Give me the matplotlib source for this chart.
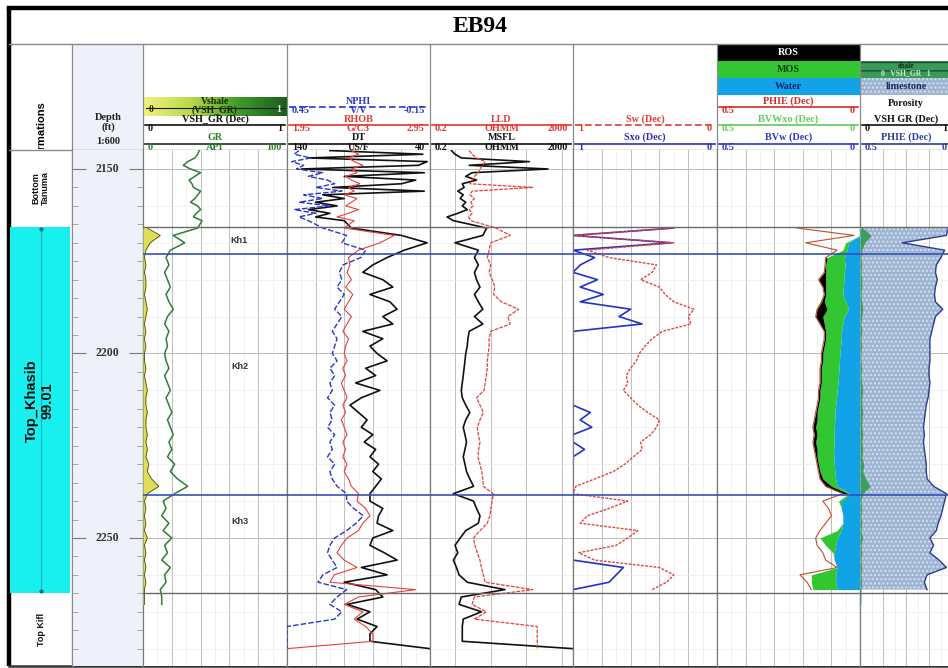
import numpy as np
import matplotlib
matplotlib.use("Agg")
import matplotlib.pyplot as plt
from matplotlib.colors import LinearSegmentedColormap
from matplotlib.patches import Rectangle
from matplotlib.ticker import LogLocator

NA = np.nan

WELL_NAME = "EB94"

# depth sampling (ft): 1 ft above Top Khasib, 2 ft below
DEPTH_TOP = list(range(2145, 2165))
DEPTH_MAIN = list(range(2166, 2282, 2))

# ---- track 1 ----
GR_TOP = [39, 38, 36, 31, 28, 33, 40, 36, 32, 34, 35, 40, 38, 36, 33, 38, 40, 37, 35, 41]
GR_MAIN = [38, 21, 29, 19, 16, 18, 15, 17, 19, 16,
           18, 21, 17, 15, 18, 16, 17, 15, 16, 18,
           15, 17, 19, 16, 18, 20, 17, 19, 21, 18,
           20, 17, 22, 19, 24, 31, 22, 14, 16, 13,
           18, 14, 20, 15, 17, 13, 19, 15, 16, 12,
           13, 13, NA, NA, NA, NA, NA, NA]
VSH_MAIN = [0.03, 0.12, 0.05, 0.02, 0.01, 0.02, 0.01, 0.02, 0.02, 0.01,
            0.02, 0.03, 0.02, 0.01, 0.02, 0.01, 0.02, 0.01, 0.01, 0.02,
            0.01, 0.02, 0.03, 0.02, 0.02, 0.03, 0.02, 0.02, 0.03, 0.02,
            0.03, 0.02, 0.04, 0.03, 0.06, 0.11, 0.03, 0.01, 0.02, 0.01,
            0.02, 0.01, 0.03, 0.01, 0.02, 0.01, 0.02, 0.01, 0.02, 0.01,
            0.01, 0.01, NA, NA, NA, NA, NA, NA]

# ---- track 2 ----
NPHI_TOP = [0.40, 0.42, 0.35, 0.43, 0.38, 0.41, 0.30, 0.36, 0.28, 0.25,
            0.33, 0.22, 0.38, 0.30, 0.40, 0.27, 0.42, 0.33, 0.40, 0.36]
NPHI_MAIN = [0.30, 0.20, 0.22, 0.12, 0.14, 0.215, 0.23, 0.22, 0.24, 0.21,
             0.23, 0.25, 0.22, 0.24, 0.26, 0.24, 0.25, 0.26, 0.24, 0.27,
             0.25, 0.27, 0.26, 0.28, 0.25, 0.27, 0.26, 0.28, 0.25, 0.27,
             0.26, 0.28, 0.25, 0.27, 0.26, 0.24, 0.20, 0.20, 0.17, 0.13,
             0.16, 0.20, 0.25, 0.27, 0.28, 0.26, 0.24, 0.30, 0.32, 0.20,
             0.24, 0.27, 0.22, 0.25, 0.45, 0.45, 0.45, 0.45]
RHOB_TOP = [2.40, 2.45, 2.38, 2.42, 2.48, 2.40, 2.44, 2.36, 2.40, 2.46,
            2.38, 2.42, 2.35, 2.44, 2.40, 2.36, 2.45, 2.38, 2.30, 2.42]
RHOB_MAIN = [2.35, 2.70, 2.60, 2.45, 2.38, 2.39, 2.37, 2.40, 2.36, 2.41,
             2.38, 2.35, 2.40, 2.37, 2.34, 2.38, 2.36, 2.35, 2.37, 2.34,
             2.36, 2.33, 2.35, 2.37, 2.34, 2.36, 2.33, 2.35, 2.37, 2.34,
             2.36, 2.34, 2.37, 2.35, 2.38, 2.40, 2.45, 2.44, 2.50, 2.53,
             2.48, 2.45, 2.37, 2.33, 2.30, 2.35, 2.44, 2.28, 2.25, 2.85,
             2.45, 2.35, 2.48, 2.42, 2.50, 2.55, 2.55, 1.95]
DT_TOP = [110, 45, 125, 42, 48, 130, 44, 100, 50, 60,
          108, 44, 115, 100, 120, 105, 125, 110, 120, 100]
DT_MAIN = [95, 60, 42, 58, 70, 80, 87, 73, 66, 82,
           68, 63, 73, 66, 87, 73, 82, 77, 70, 85,
           78, 92, 75, 88, 96, 90, 84, 88, 80, 86,
           78, 82, 76, 80, 74, 78, 82, 82, 73, 76,
           77, 66, 80, 82, 72, 63, 88, 70, 100, 78,
           73, 98, 82, 91, 77, 82, 82, 40]

# ---- track 3 ----
LLD_TOP = [2.5, 3.0, 4.0, 7.0, 6.0, 5.0, 4.5, 3.5, 3.0, 2.6,
           150, 3.0, 2.6, 3.5, 2.8, 3.2, 2.5, 3.0, 2.4, 2.8]
LLD_MAIN = [14, 35, 10, 9, 8, 10, 9, 11, 13, 12,
            20, 60, 30, 35, 10, 9, 9, 8.5, 8, 8,
            7.5, 7, 6.5, 4.0, 5.0, 6.2, 5.0, 4.2, 4.5, 5.0,
            4.6, 4.4, 5.0, 5.6, 6.0, 6.2, 11.8, 11, 10, 9.5,
            8, 5, 3.3, 3.6, 4.2, 5.0, 5.5, 6.2, 7, 150,
            3.5, 3.0, 7.5, 3.5, 200, 200, 200, 200]
MSFL_TOP = [0.8, 1.0, 1.5, 120, 2.5, 400, 3.0, 2.0, 4.0, 1.6,
            1.8, 1.2, 1.7, 1.4, 2.0, 1.6, 2.2, 1.2, 0.6, 0.9]
MSFL_MAIN = [7.7, 6.0, 1.0, 4.5, 3.5, 4.5, 3.5, 4.0, 5.0, 3.5,
             4.5, 6.0, 3.5, 6.0, 2.5, 2.3, 2.2, 2.0, 1.9, 1.8,
             1.7, 1.6, 1.5, 1.6, 2.0, 2.6, 2.0, 1.7, 1.9, 2.1,
             1.9, 1.7, 1.9, 2.1, 2.6, 3.3, 0.9, 3.3, 4.0, 5.0,
             4.5, 2.0, 1.4, 1.0, 1.2, 0.9, 1.1, 1.3, 2.2, 25,
             1.5, 1.3, 5.5, 1.7, 1.6, 1.6, 1.6, 2000]

# ---- track 4 ----
SW_MAIN = [0.30, 1.0, 0.30, 0.90, 0.75, 0.42, 0.45, 0.53, 0.40, 0.36,
           0.30, 0.16, 0.20, 0.18, 0.38, 0.45, 0.50, 0.54, 0.56, 0.60,
           0.63, 0.62, 0.65, 0.60, 0.55, 0.48, 0.40, 0.42, 0.46, 0.53,
           0.52, 0.58, 0.64, 0.72, 0.85, 0.98, 1.0, 0.62, 0.75, 0.90,
           0.95, 0.55, 0.62, 0.70, 0.96, 0.85, 0.40, 0.30, 0.35, 0.45,
           NA, NA, NA, NA, NA, NA, NA, NA]
SXO_MAIN = [0.30, 1.0, 0.32, 1.0, 0.85, 0.95, 1.0, 0.83, 0.95, 0.79,
            0.95, 0.60, 0.68, 0.52, 1.0, 1.0, 1.0, 1.0, 1.0, 1.0,
            1.0, 1.0, 1.0, 1.0, 1.0, 0.88, 0.95, 0.87, 1.0, 1.0,
            0.92, 1.0, 1.0, 1.0, 1.0, 1.0, 1.0, 1.0, 1.0, 1.0,
            1.0, 1.0, 1.0, 1.0, 1.0, 1.0, 0.65, 0.70, 0.75, 1.0,
            NA, NA, NA, NA, NA, NA, NA, NA]

# ---- track 5 ----
PHIE_MAIN = [0.22, 0.02, 0.19, 0.08, 0.12, 0.122, 0.125, 0.145, 0.13, 0.125,
             0.135, 0.15, 0.155, 0.14, 0.125, 0.125, 0.13, 0.135, 0.135, 0.14,
             0.14, 0.14, 0.145, 0.145, 0.15, 0.155, 0.16, 0.165, 0.16, 0.165,
             0.16, 0.155, 0.15, 0.145, 0.14, 0.12, 0.06, 0.13, 0.11, 0.10,
             0.12, 0.14, 0.155, 0.15, 0.13, 0.12, 0.08, 0.21, 0.185, 0.17,
             NA, NA, NA, NA, NA, NA, NA, NA]
BVWXO_MAIN = [0.0, 0.0, 0.05, 0.06, 0.115, 0.12, 0.12, 0.12, 0.12, 0.12,
              0.125, 0.115, 0.13, 0.125, 0.12, 0.12, 0.125, 0.13, 0.13, 0.135,
              0.135, 0.135, 0.14, 0.14, 0.145, 0.15, 0.15, 0.155, 0.15, 0.155,
              0.15, 0.15, 0.145, 0.14, 0.13, 0.10, 0.04, 0.075, 0.065, 0.06,
              0.06, 0.08, 0.14, 0.12, 0.095, 0.09, 0.08, 0.17, 0.17, 0.165,
              NA, NA, NA, NA, NA, NA, NA, NA]
BVW_MAIN = [0.0, 0.0, 0.04, 0.045, 0.055, 0.052, 0.055, 0.056, 0.058, 0.06,
            0.05, 0.04, 0.055, 0.06, 0.065, 0.065, 0.068, 0.07, 0.072, 0.073,
            0.075, 0.077, 0.08, 0.082, 0.085, 0.088, 0.088, 0.09, 0.09, 0.09,
            0.092, 0.092, 0.09, 0.088, 0.085, 0.08, 0.035, 0.065, 0.065, 0.06,
            0.06, 0.065, 0.08, 0.085, 0.09, 0.09, 0.08, 0.085, 0.085, 0.08,
            NA, NA, NA, NA, NA, NA, NA, NA]

# ---- track 6 (porosity curve as drawn in the lithology track) ----
PHIE_LITH_MAIN = [0.02, 0.03, 0.27, 0.04, 0.06, 0.085, 0.09, 0.08, 0.09, 0.095,
                  0.09, 0.05, 0.09, 0.10, 0.11, 0.12, 0.12, 0.12, 0.12, 0.125,
                  0.125, 0.12, 0.125, 0.13, 0.14, 0.145, 0.15, 0.155, 0.15, 0.155,
                  0.15, 0.145, 0.14, 0.14, 0.135, 0.10, 0.03, 0.04, 0.05, 0.06,
                  0.075, 0.085, 0.12, 0.10, 0.12, 0.07, 0.03, 0.136, 0.15, 0.136,
                  NA, NA, NA, NA, NA, NA, NA, NA]

FORMATIONS = ["Bottom\nTanuma", "Top_Khasib\n99.01", "Top Kifl"]
FORMATION_TOPS = [2144.85, 2165.7, 2264.9]
FORMATION_BASES = [2165.7, 2264.9, 2284.7]
ZONES = ["Kh1", "Kh2", "Kh3"]
ZONE_TOPS = [2165.7, 2173.0, 2238.4]
ZONE_LABEL_DEPTHS = [2169.5, 2203.5, 2245.5]
DEPTH_LABELS = [2150, 2200, 2250]

W, H = 948, 668
TRACK_X = [143, 287, 430, 573, 717, 860, 952]
Y_HEAD_TOP, Y_HEAD_BOT, Y_BOTTOM = 44, 150, 666
D_TOP, D_BOT = 2144.85, 2284.7

SERIF = dict(family=["Liberation Serif", "DejaVu Serif"], fontweight="bold")
SANS = dict(family=["Liberation Sans", "DejaVu Sans"], fontweight="bold")

d_all = np.array(DEPTH_TOP + DEPTH_MAIN, dtype=float)
d_main = np.array(DEPTH_MAIN, dtype=float)
gr = np.array(GR_TOP + GR_MAIN)
nphi = np.array(NPHI_TOP + NPHI_MAIN)
rhob = np.array(RHOB_TOP + RHOB_MAIN)
dt = np.array(DT_TOP + DT_MAIN)
lld = np.array(LLD_TOP + LLD_MAIN)
msfl = np.array(MSFL_TOP + MSFL_MAIN)
vsh = np.array(VSH_MAIN)
sw = np.array(SW_MAIN)
sxo = np.array(SXO_MAIN)
phie = np.array(PHIE_MAIN)
bvwxo = np.array(BVWXO_MAIN)
bvw = np.array(BVW_MAIN)
phie_lith = np.array(PHIE_LITH_MAIN)

fig = plt.figure(figsize=(W / 100, H / 100), dpi=100)


def px_rect(x0, y0, x1, y1):
    return [x0 / W, 1 - y1 / H, (x1 - x0) / W, (y1 - y0) / H]


# ---------------- canvas: frame and header ----------------
cv = fig.add_axes([0, 0, 1, 1])
cmap = LinearSegmentedColormap.from_list("vsh", ["#f2f27c", "#b8d84a", "#3f9a2c", "#1b5e1b"])
cv.imshow(np.linspace(0, 1, 100)[None, :], extent=(143, 287, 116, 97), cmap=cmap, aspect="auto")
cv.set_xlim(0, W)
cv.set_ylim(H, 0)
cv.axis("off")

cv.add_patch(Rectangle((72, Y_HEAD_TOP), 71, Y_BOTTOM - Y_HEAD_TOP, color="#eef1fa", lw=0, zorder=0))
cv.plot([9, 9], [6.5, Y_BOTTOM], color="k", lw=3.2, solid_capstyle="butt")
cv.plot([9, W + 5], [8, 8], color="k", lw=3.2)
cv.plot([9, W + 5], [Y_BOTTOM, Y_BOTTOM], color="#333333", lw=1.8)
cv.plot([9, W], [Y_HEAD_TOP, Y_HEAD_TOP], color="#8a8a8a", lw=1)
cv.plot([9, W], [Y_HEAD_BOT, Y_HEAD_BOT], color="#8a8a8a", lw=1)
for x in [72] + TRACK_X[:-1]:
    cv.plot([x, x], [Y_HEAD_TOP, Y_BOTTOM], color="#8a8a8a", lw=0.9)

cv.text(480, 27, WELL_NAME, fontsize=17, ha="center", va="center", **SERIF)

t = cv.text(41, 132, "Formations", rotation=90, fontsize=8, ha="center", va="center", **SANS)
t.set_clip_on(True)
t.set_clip_path(Rectangle((10, Y_HEAD_TOP), 62, Y_HEAD_BOT - Y_HEAD_TOP - 1, transform=cv.transData))

cv.text(108, 118, "Depth", fontsize=7.5, ha="center", va="center", color="#222222", **SERIF)
cv.text(108, 127, "(ft)", fontsize=7.5, ha="center", va="center", color="#222222", **SERIF)
cv.text(108, 142, "1:600", fontsize=7.5, ha="center", va="center", color="#222222", **SERIF)


def scale_row(x0, x1, y, name, left, right, color, unit=None, ls="-", fs=7.3):
    cv.plot([x0 + 2, x1 - 2], [y, y], color=color, lw=1.2, ls=ls)
    mid = (x0 + x1) / 2
    cv.text(mid, y - 6, name, color=color, ha="center", va="center", fontsize=fs, **SERIF)
    cv.text(x0 + 5, y + 3.5, left, color=color, ha="left", va="center", fontsize=fs, **SERIF)
    cv.text(x1 - 5, y + 3.5, right, color=color, ha="right", va="center", fontsize=fs, **SERIF)
    if unit:
        cv.text(mid, y + 3.5, unit, color=color, ha="center", va="center", fontsize=fs, **SERIF)


ROW_A, ROW_B, ROW_C = 107, 125, 143.5
RED, BLUE, GREEN = "#e23a32", "#2a38c8", "#2f7f33"

# track 1 header
cv.plot([146, 284], [108, 108], color="#1a1a1a", lw=0.8)
cv.text(215, 101, "Vshale", fontsize=7, ha="center", va="center", color="#1a2a00", **SERIF)
cv.text(215, 110, "(VSH_GR)", fontsize=7, ha="center", va="center", color="#1a2a00", **SERIF)
cv.text(149, 110, "0", fontsize=7, ha="left", va="center", color="#1a2a00", **SERIF)
cv.text(281, 110, "1", fontsize=7, ha="right", va="center", color="#e8ffe0", **SERIF)
scale_row(143, 287, ROW_B, "VSH_GR (Dec)", "0", "1", "#111111")
scale_row(143, 287, ROW_C, "GR", "0", "100", GREEN, unit="API")
cv.plot([145, 285], [ROW_C, ROW_C], color="#3a3a3a", lw=1.1)

# track 2 header
scale_row(287, 430, ROW_A, "NPHI", "0.45", "-0.15", BLUE, unit="V/V", ls=(0, (4, 2)))
scale_row(287, 430, ROW_B, "RHOB", "1.95", "2.95", RED, unit="G/C3")
scale_row(287, 430, ROW_C, "DT", "140", "40", "#111111", unit="US/F")

# track 3 header
scale_row(430, 573, ROW_B, "LLD", "0.2", "2000", RED, unit="OHMM")
scale_row(430, 573, ROW_C, "MSFL", "0.2", "2000", "#111111", unit="OHMM")

# track 4 header
scale_row(573, 717, ROW_B, "Sw (Dec)", "1", "0", RED, ls=(0, (4, 2)))
scale_row(573, 717, ROW_C, "Sxo (Dec)", "1", "0", "#3030b0")

# track 5 header
for (y0, y1, fc, label, tc) in [(44, 61, "#000000", "ROS", "#ffffff"),
                                (61, 78, "#33c633", "MOS", "#0b3d0b"),
                                (78, 95, "#12a2e8", "Water", "#0a2470")]:
    cv.add_patch(Rectangle((717, y0), 143, y1 - y0, color=fc, lw=0))
    cv.text(788, (y0 + y1) / 2, label, color=tc, fontsize=7.3, ha="center", va="center", **SERIF)
scale_row(717, 860, ROW_A, "PHIE (Dec)", "0.5", "0", "#d42a24")
scale_row(717, 860, ROW_B, "BVWxo (Dec)", "0.5", "0", "#5ccc5c")
scale_row(717, 860, ROW_C, "BVw (Dec)", "0.5", "0", BLUE)

# track 6 header
cv.add_patch(Rectangle((860, 61), 92, 17, facecolor="#3a9a5a", edgecolor="#1d4d2d", hatch="--", lw=0))
cv.text(906, 66, "shale", fontsize=5.5, ha="center", va="center", color="#102a10", **SERIF)
cv.text(906, 73.5, "0   VSH_GR   1", fontsize=5.5, ha="center", va="center", color="#c8f0c8", **SERIF)
cv.add_patch(Rectangle((860, 78), 92, 17, facecolor="#9db5d3", edgecolor="#d6e0ee", hatch="....", lw=0))
cv.text(906, 86.5, "limestone", fontsize=7.3, ha="center", va="center", color="#1a2a6a", **SERIF)
cv.text(906, 103, "Porosity", fontsize=7.3, ha="center", va="center", color="#111111", **SERIF)
scale_row(860, 952, ROW_B, "VSH GR (Dec)", "0", "1", "#111111")
scale_row(860, 952, ROW_C, "PHIE (Dec)", "0.5", "0", "#2b3d9e")

# ---------------- formation column ----------------
fax = fig.add_axes(px_rect(10, Y_HEAD_BOT, 72, Y_BOTTOM))
fax.set_xlim(0, 1)
fax.set_ylim(D_BOT, D_TOP)
fax.axis("off")
for name, top, base in zip(FORMATIONS, FORMATION_TOPS, FORMATION_BASES):
    mid = (top + base) / 2
    if name.startswith("Top_Khasib"):
        fax.axhspan(top, base, xmin=0, xmax=0.968, color="#18f0f0", lw=0)
        fax.plot([0.5, 0.5], [top + 0.6, base - 0.6], color="#10b8c0", lw=0.8)
        fax.plot([0.5, 0.5], [top + 0.6, base - 0.6], "o", color="#10707a", ms=2)
        fax.text(0.48, mid - 2.5, name, rotation=90, fontsize=10.5, ha="center", va="center",
                 multialignment="center", linespacing=1.2, color="#111111", **SANS)
    else:
        fax.text(0.5, mid, name, rotation=90, fontsize=6.5, ha="center", va="center",
                 multialignment="center", linespacing=1.1, color="#111111", **SANS)

# ---------------- depth column ----------------
dax = fig.add_axes(px_rect(72, Y_HEAD_BOT, 143, Y_BOTTOM))
dax.set_facecolor("#eef1fa")
dax.set_xlim(0, 1)
dax.set_ylim(D_BOT, D_TOP)
dax.set_yticks(DEPTH_LABELS)
dax.set_yticks(np.arange(2150, 2285, 5), minor=True)
dax.tick_params(axis="y", which="major", direction="in", length=10, color="#7a7a7a",
                left=True, right=True, labelleft=False)
dax.tick_params(axis="y", which="minor", direction="in", length=4, color="#9a9a9a",
                left=True, right=True)
dax.tick_params(axis="x", which="both", bottom=False, labelbottom=False)
for side in ("top", "bottom"):
    dax.spines[side].set_visible(False)
for side in ("left", "right"):
    dax.spines[side].set_color("#8a8a8a")
for d in DEPTH_LABELS:
    dax.text(0.5, d, str(d), fontsize=8.5, ha="center", va="center", color="#333333", **SERIF)


# ---------------- data tracks ----------------
def make_track(x0, x1, xlim, ndiv=5, log=False):
    ax = fig.add_axes(px_rect(x0, Y_HEAD_BOT, x1, Y_BOTTOM))
    if log:
        ax.set_xscale("log")
    ax.set_xlim(*xlim)
    ax.set_ylim(D_BOT, D_TOP)
    if log:
        ax.set_xticks([1, 10, 100, 1000])
        ax.xaxis.set_minor_locator(LogLocator(base=10, subs=range(2, 10)))
    else:
        ax.set_xticks(np.linspace(xlim[0], xlim[1], ndiv + 1))
        ax.set_xticks(np.linspace(xlim[0], xlim[1], 2 * ndiv + 1), minor=True)
    ax.set_yticks(DEPTH_LABELS)
    ax.set_yticks(np.arange(2150, 2285, 10), minor=True)
    ax.grid(True, which="major", color="#bdbdbd", lw=0.7)
    ax.grid(True, which="minor", color="#ebebeb", lw=0.5)
    ax.set_axisbelow(True)
    ax.tick_params(which="both", length=0, labelbottom=False, labelleft=False)
    for side in ("top", "bottom"):
        ax.spines[side].set_visible(False)
    for side in ("left", "right"):
        ax.spines[side].set_color("#7a7a7a")
        ax.spines[side].set_linewidth(0.9)
    return ax


def overlay(ax, xlim, log=False):
    tw = ax.twiny()
    if log:
        tw.set_xscale("log")
    tw.set_xlim(*xlim)
    tw.axis("off")
    return tw


# track 1: GR + VSH
ax1 = make_track(143, 287, (0, 100))
ax1.plot(gr, d_all, color=GREEN, lw=1.1)
v1 = overlay(ax1, (0, 1))
v1.fill_betweenx(d_main, 0, vsh, color="#dede5a", lw=0)
v1.plot(vsh, d_main, color="#4a4a20", lw=0.6)
for name, dz in zip(ZONES, ZONE_LABEL_DEPTHS):
    ax1.text(67, dz, name, fontsize=6.5, ha="center", va="center", color="#333333", **SANS)

# track 2: DT / NPHI / RHOB
ax2 = make_track(287, 430, (140, 40))
ax2.plot(dt, d_all, color="#111111", lw=1.2)
n2 = overlay(ax2, (0.45, -0.15))
n2.plot(nphi, d_all, color=BLUE, lw=1.0, ls=(0, (4, 1.5)))
r2 = overlay(ax2, (1.95, 2.95))
r2.plot(rhob, d_all, color="#e8403a", lw=0.8)

# track 3: resistivity
ax3 = make_track(430, 573, (0.2, 2000), log=True)
ax3.plot(msfl, d_all, color="#111111", lw=1.2)
ax3.plot(lld, d_all, color="#e8403a", lw=0.9, ls=(0, (3, 1)))

# track 4: saturations
ax4 = make_track(573, 717, (1, 0))
ax4.plot(sxo, d_main, color="#2433c4", lw=1.2)
ax4.plot(sw, d_main, color="#e8403a", lw=1.0, ls=(0, (2, 1)))

# track 5: bulk volumes
ax5 = make_track(717, 860, (0.5, 0))
ax5.fill_betweenx(d_main, 0, bvw, color="#12a2e8", lw=0)
ax5.fill_betweenx(d_main, bvw, bvwxo, color="#33c633", lw=0)
ros = (phie > bvwxo) & (d_main >= ZONE_TOPS[1]) & (d_main < ZONE_TOPS[2])
ax5.fill_betweenx(d_main, bvwxo, phie, where=ros, color="#000000", lw=0)
ax5.plot(phie, d_main, color="#c0502a", lw=0.8)

# track 6: lithology / porosity
ax6 = make_track(860, 952, (0, 1), ndiv=4)
p6 = overlay(ax6, (0.5, 0))
p6.fill_betweenx(d_main, 0.5, phie_lith, facecolor="#9db5d3", edgecolor="#d6e0ee", hatch="....", lw=0)
p6.plot(phie_lith, d_main, color="#2b3d8e", lw=1.0)
s6 = overlay(ax6, (0, 1))
s6.fill_betweenx(d_main, 0, vsh, color="#3d9d5d", lw=0)

# ---------------- zone boundaries across all tracks ----------------
ov = fig.add_axes(px_rect(143, Y_HEAD_BOT, 952, Y_BOTTOM))
ov.set_xlim(0, 1)
ov.set_ylim(D_BOT, D_TOP)
ov.axis("off")
for d in FORMATION_TOPS[1:]:
    ov.axhline(d, color="#6a6a6a", lw=1.0)
for d in ZONE_TOPS[1:]:
    ov.axhline(d, color="#3550b5", lw=1.2)

fig.savefig("out.png", dpi=100)
